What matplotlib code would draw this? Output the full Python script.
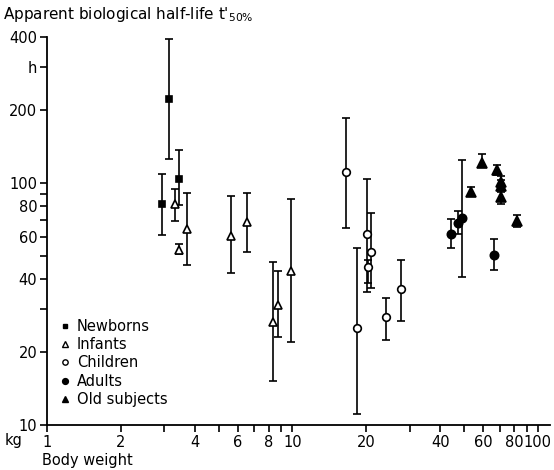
import matplotlib.pyplot as plt
import numpy as np

# body weight (kg), half-life (h), error bar low / high
nb_x = [2.94, 3.14, 3.45]
nb_y = [82, 222, 104]
nb_lo = [61, 126, 81]
nb_hi = [109, 393, 136]

inf_x = [3.32, 3.45, 3.72, 5.62, 6.53, 8.33, 8.73, 9.86]
inf_y = [82, 53, 64.6, 60.4, 69, 26.7, 31.3, 43.3]
inf_lo = [69.7, 50.9, 45.8, 42.5, 51.9, 15.2, 23.1, 22.0]
inf_hi = [94.5, 55.9, 91, 88, 91, 47.2, 43.3, 85.9]

ch_x = [16.5, 18.3, 20.1, 20.9, 20.3, 24.0, 27.7]
ch_y = [111, 25.2, 61.5, 51.9, 45, 27.9, 36.5]
ch_lo = [65.2, 11.1, 35.5, 36.8, 38.5, 22.4, 26.9]
ch_hi = [186, 53.8, 104, 75.2, 48, 33.5, 48.1]

ad_x = [44.2, 47.2, 49.0, 66.2]
ad_y = [61.5, 68.4, 71.6, 50.4]
ad_lo = [53.8, 61.5, 40.9, 43.7]
ad_hi = [71, 76.5, 124, 58.7]

old_x = [53.3, 59.1, 68.1, 70.7, 70.7, 70.7, 82.1]
old_y = [91.8, 121, 113, 101, 97, 87.5, 69.7]
old_lo = [88, 116, 108, 96, 92, 81.8, 65.7]
old_hi = [96, 131, 119, 107, 103, 93.5, 73.7]

fig = plt.figure(figsize=(5.54, 4.70), dpi=100)
ax = fig.add_axes([47/554, 45/470, 503/554, 388/470])

groups = [
    (nb_x, nb_y, nb_lo, nb_hi, 's', 'black', 'Newborns', 5),
    (inf_x, inf_y, inf_lo, inf_hi, '^', 'white', 'Infants', 6),
    (ch_x, ch_y, ch_lo, ch_hi, 'o', 'white', 'Children', 5.5),
    (ad_x, ad_y, ad_lo, ad_hi, 'o', 'black', 'Adults', 6),
    (old_x, old_y, old_lo, old_hi, '^', 'black', 'Old subjects', 6.5),
]
handles = []
for x, y, lo, hi, m, fc, lab, ms in groups:
    y = np.array(y)
    err = [y - np.array(lo), np.array(hi) - y]
    ax.errorbar(x, y, yerr=err, fmt='none', ecolor='black', elinewidth=1.2,
                capsize=3.2, capthick=1.2, zorder=2)
    ax.plot(x, y, linestyle='none', marker=m, markersize=ms, markerfacecolor=fc,
            markeredgecolor='black', markeredgewidth=1.2, zorder=3)
    h, = ax.plot([], [], linestyle='none', marker=m, markersize=ms * 0.7,
                 markerfacecolor=fc, markeredgecolor='black', markeredgewidth=1.0)
    handles.append((h, lab))

ax.set_xscale('log')
ax.set_yscale('log')
ax.set_xlim(1, 112)
ax.set_ylim(10, 400)

ax.spines['top'].set_visible(False)
ax.spines['right'].set_visible(False)
ax.spines['left'].set_linewidth(1.3)
ax.spines['bottom'].set_linewidth(1.3)

xt = [1, 2, 3, 4, 5, 6, 7, 8, 9, 10, 20, 30, 40, 50, 60, 70, 80, 90, 100]
xl = ['1', '2', '', '4', '', '6', '', '8', '', '10', '20', '', '40', '', '60', '', '80', '', '100']
yt = [10, 20, 30, 40, 50, 60, 70, 80, 90, 100, 200, 300, 400]
yl = ['10', '20', '', '40', '', '60', '', '80', '', '100', '200', 'h', '400']
ax.xaxis.set_minor_locator(plt.NullLocator())
ax.yaxis.set_minor_locator(plt.NullLocator())
ax.set_xticks(xt)
ax.set_xticklabels(xl)
ax.set_yticks(yt)
ax.set_yticklabels(yl)
ax.tick_params(axis='both', direction='out', length=5, width=1.2, labelsize=10.5, pad=2)

fig.text(3/554, 1 - 14/470, "Apparent biological half-life t$'_{50\\%}$", fontsize=11,
         va='center', ha='left')
fig.text(5/554, 1 - 440/470, 'kg', fontsize=10.5, va='center', ha='left')
fig.text(42/554, 1 - 461/470, 'Body weight', fontsize=10.5, va='center', ha='left')

leg = ax.legend([h for h, _ in handles], [l for _, l in handles], loc='upper left',
                bbox_to_anchor=(61/554, 1 - 319/470), bbox_transform=fig.transFigure,
                frameon=False, handlelength=0.6, handletextpad=0.5, labelspacing=0.22,
                fontsize=10.5, borderpad=0, borderaxespad=0)

fig.savefig('out.png', dpi=100)
